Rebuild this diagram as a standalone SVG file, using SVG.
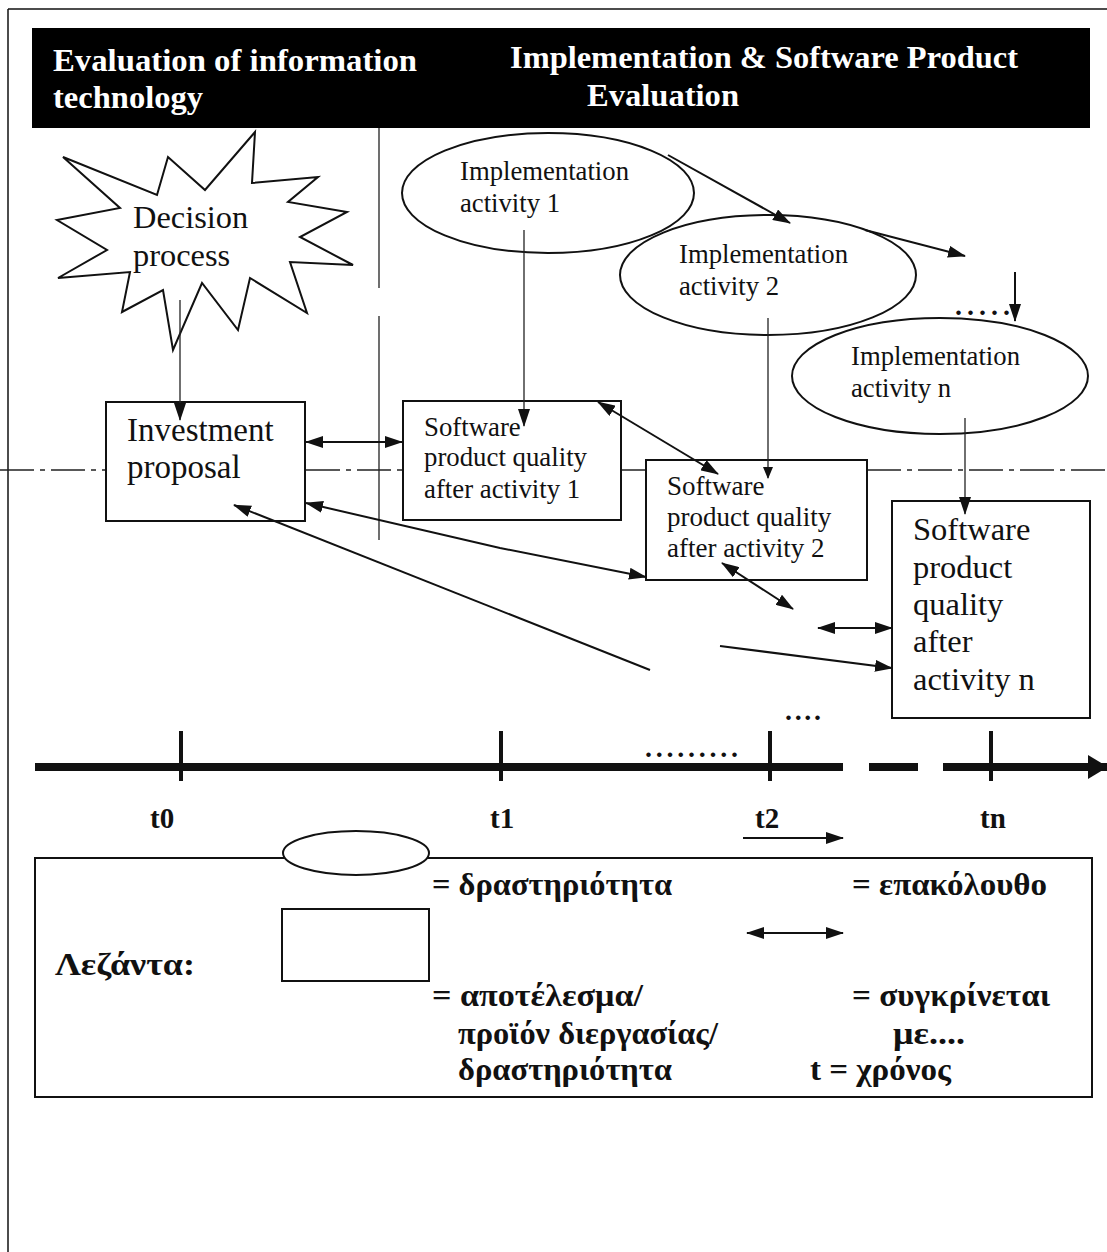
<svg xmlns="http://www.w3.org/2000/svg" width="1107" height="1252" viewBox="0 0 1107 1252">
<style>
.frame{fill:none;stroke:#111;stroke-width:1.5}
.box{fill:#fff;stroke:#111;stroke-width:2}
.lbl{font-family:"Liberation Serif","Times New Roman",serif;fill:#111}
.hdr{font-family:"Liberation Serif","Times New Roman",serif;font-weight:bold;fill:#fff;font-size:32px}
.leg{font-family:"Liberation Serif","Times New Roman",serif;font-weight:bold;fill:#111;font-size:31px}
.tl{font-family:"Liberation Serif","Times New Roman",serif;font-weight:bold;fill:#111;font-size:29px}
.ln{fill:none;stroke:#111;stroke-width:2}
.thin{fill:none;stroke:#222;stroke-width:1.3}
</style>
<defs>
<marker id="ah" viewBox="0 0 18 12" refX="17" refY="6" markerWidth="18" markerHeight="12" markerUnits="userSpaceOnUse" orient="auto-start-reverse">
<path d="M0,0 L18,6 L0,12 Z" fill="#111"/>
</marker>
<marker id="ahs" viewBox="0 0 12 10" refX="11" refY="5" markerWidth="12" markerHeight="10" markerUnits="userSpaceOnUse" orient="auto-start-reverse">
<path d="M0,0 L12,5 L0,10 Z" fill="#111"/>
</marker>
<marker id="ahb" viewBox="0 0 20 24" refX="19" refY="12" markerWidth="20" markerHeight="24" markerUnits="userSpaceOnUse" orient="auto">
<path d="M0,0 L20,12 L0,24 Z" fill="#111"/>
</marker>
</defs>
<rect width="1107" height="1252" fill="#fff"/>
<g id="frame">
<line x1="8" y1="9" x2="1107" y2="9" class="frame"/>
<line x1="8" y1="9" x2="8" y2="1252" class="frame"/>
</g>
<g id="header">
<rect x="32" y="28" width="1058" height="100" fill="#000"/>
<text x="53" y="71" class="hdr" textLength="364" lengthAdjust="spacingAndGlyphs">Evaluation of information</text>
<text x="53" y="108" class="hdr" textLength="150" lengthAdjust="spacingAndGlyphs">technology</text>
<text x="510" y="68" class="hdr" textLength="508" lengthAdjust="spacingAndGlyphs">Implementation &amp; Software Product</text>
<text x="587" y="106" class="hdr" textLength="152" lengthAdjust="spacingAndGlyphs">Evaluation</text>
</g>
<g id="guides">
<line x1="379" y1="128" x2="379" y2="540" class="thin" stroke-dasharray="160 28 400"/>
<line x1="0" y1="470" x2="1107" y2="470" class="thin" stroke-dasharray="34 6 5 6"/>
</g>
<g id="decision">
<polygon class="box" points="63,157 157,195 168,157 205,190 255,132 252,183 318,177 288,202 347,212 300,237 353,265 290,262 307,313 250,278 238,330 202,283 173,350 163,290 122,312 130,272 58,278 107,250 57,220 120,208"/>
<text x="133" y="228" class="lbl" font-size="32.4">Decision</text>
<text x="133" y="266" class="lbl" font-size="32.4">process</text>
</g>
<g id="investment">
<rect x="106" y="402" width="199" height="119" class="box"/>
<text x="127" y="441" class="lbl" font-size="33">Investment</text>
<text x="127" y="478" class="lbl" font-size="33">proposal</text>
</g>
<g id="act1">
<ellipse cx="548" cy="193" rx="146" ry="60" class="box"/>
<text x="460" y="180" class="lbl" font-size="26.7">Implementation</text>
<text x="460" y="212" class="lbl" font-size="26.7">activity 1</text>
</g>
<g id="act2">
<ellipse cx="768" cy="275" rx="148" ry="60" class="box"/>
<text x="679" y="263" class="lbl" font-size="26.7">Implementation</text>
<text x="679" y="295" class="lbl" font-size="26.7">activity 2</text>
</g>
<g id="actn">
<ellipse cx="940" cy="376" rx="148" ry="58" class="box"/>
<text x="851" y="365" class="lbl" font-size="26.7">Implementation</text>
<text x="851" y="397" class="lbl" font-size="26.7">activity n</text>
</g>
<g id="sq1">
<rect x="403" y="401" width="218" height="119" class="box"/>
<text x="424" y="436" class="lbl" font-size="26.8">Software</text>
<text x="424" y="466" class="lbl" font-size="26.8">product quality</text>
<text x="424" y="498" class="lbl" font-size="26.8">after activity 1</text>
</g>
<g id="sq2">
<rect x="646" y="460" width="221" height="120" class="box"/>
<text x="667" y="495" class="lbl" font-size="27">Software</text>
<text x="667" y="526" class="lbl" font-size="27">product quality</text>
<text x="667" y="557" class="lbl" font-size="27">after activity 2</text>
</g>
<g id="sqn">
<rect x="892" y="501" width="198" height="217" class="box"/>
<text x="913" y="540" class="lbl" font-size="32.5">Software</text>
<text x="913" y="578" class="lbl" font-size="32.5">product</text>
<text x="913" y="615" class="lbl" font-size="32.5">quality</text>
<text x="913" y="652" class="lbl" font-size="32.5">after</text>
<text x="913" y="690" class="lbl" font-size="32.5">activity n</text>
</g>
<g id="connectors">
<line x1="180" y1="300" x2="180" y2="420" class="thin" marker-end="url(#ah)"/>
<line x1="524" y1="230" x2="524" y2="426" class="thin" marker-end="url(#ah)"/>
<line x1="768" y1="318" x2="768" y2="478" class="thin" marker-end="url(#ahs)"/>
<line x1="965" y1="418" x2="965" y2="514" class="thin" marker-end="url(#ah)"/>
<line x1="668" y1="155" x2="790" y2="223" class="ln" marker-end="url(#ah)"/>
<line x1="865" y1="230" x2="965" y2="256" class="ln" marker-end="url(#ah)"/>
<line x1="1015" y1="272" x2="1015" y2="321" class="ln" marker-end="url(#ah)"/>
<line x1="306" y1="442" x2="402" y2="442" class="ln" marker-start="url(#ah)" marker-end="url(#ah)"/>
<line x1="598" y1="402" x2="718" y2="474" class="ln" marker-start="url(#ah)" marker-end="url(#ah)"/>
<polyline points="306,503 500,548 646,577" class="ln" marker-start="url(#ah)" marker-end="url(#ah)"/>
<line x1="650" y1="670" x2="234" y2="505" class="ln" marker-end="url(#ah)"/>
<line x1="722" y1="563" x2="793" y2="609" class="ln" marker-start="url(#ah)" marker-end="url(#ah)"/>
<line x1="818" y1="628" x2="892" y2="628" class="ln" marker-start="url(#ah)" marker-end="url(#ah)"/>
<line x1="720" y1="646" x2="892" y2="668" class="ln" marker-end="url(#ah)"/>
</g>
<g id="dots" class="lbl" font-weight="bold">
<text x="955" y="315" font-size="28" textLength="55">.....</text>
<text x="785" y="720" font-size="28" textLength="36">....</text>
<text x="645" y="757" font-size="28" textLength="93">.........</text>
</g>
<g id="timeline">
<line x1="35" y1="767" x2="843" y2="767" stroke="#111" stroke-width="8"/>
<line x1="869" y1="767" x2="918" y2="767" stroke="#111" stroke-width="8"/>
<line x1="943" y1="767" x2="1107" y2="767" stroke="#111" stroke-width="8" marker-end="url(#ahb)"/>
<line x1="181" y1="731" x2="181" y2="781" stroke="#111" stroke-width="4"/>
<line x1="501" y1="731" x2="501" y2="781" stroke="#111" stroke-width="4"/>
<line x1="770" y1="731" x2="770" y2="781" stroke="#111" stroke-width="4"/>
<line x1="991" y1="731" x2="991" y2="781" stroke="#111" stroke-width="4"/>
<text x="150" y="828" class="tl">t0</text>
<text x="490" y="828" class="tl">t1</text>
<text x="755" y="828" class="tl">t2</text>
<text x="980" y="828" class="tl">tn</text>
</g>
<g id="legend">
<rect x="35" y="858" width="1057" height="239" fill="none" stroke="#111" stroke-width="2"/>
<ellipse cx="356" cy="853" rx="73" ry="22" class="box"/>
<rect x="282" y="909" width="147" height="72" class="box"/>
<line x1="743" y1="838" x2="843" y2="838" class="ln" marker-end="url(#ah)"/>
<line x1="747" y1="933" x2="843" y2="933" class="ln" marker-start="url(#ah)" marker-end="url(#ah)"/>
<text x="432" y="895" class="leg" textLength="240" lengthAdjust="spacingAndGlyphs">= δραστηριότητα</text>
<text x="852" y="895" class="leg" textLength="195" lengthAdjust="spacingAndGlyphs">= επακόλουθο</text>
<text x="55" y="975" class="leg" textLength="140" lengthAdjust="spacingAndGlyphs">Λεζάντα:</text>
<text x="432" y="1006" class="leg" textLength="211" lengthAdjust="spacingAndGlyphs">= αποτέλεσμα/</text>
<text x="458" y="1044" class="leg" textLength="260" lengthAdjust="spacingAndGlyphs">προϊόν διεργασίας/</text>
<text x="458" y="1080" class="leg" textLength="214" lengthAdjust="spacingAndGlyphs">δραστηριότητα</text>
<text x="852" y="1006" class="leg" textLength="198" lengthAdjust="spacingAndGlyphs">= συγκρίνεται</text>
<text x="893" y="1044" class="leg" textLength="72" lengthAdjust="spacingAndGlyphs">με....</text>
<text x="810" y="1080" class="leg" textLength="141" lengthAdjust="spacingAndGlyphs">t = χρόνος</text>
</g>
</svg>
